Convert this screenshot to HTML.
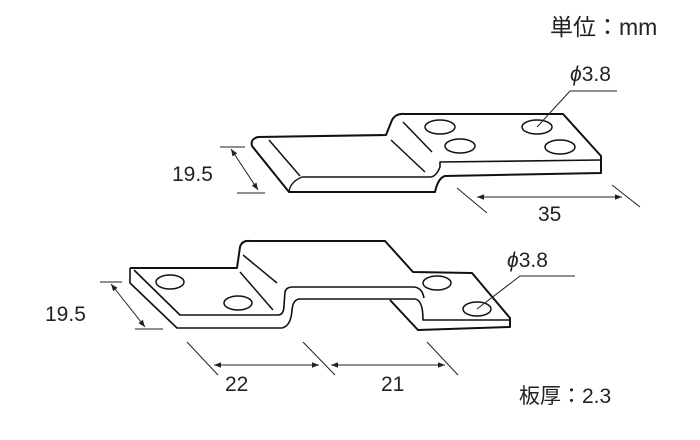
<!DOCTYPE html>
<html><head><meta charset="utf-8"><style>
html,body{margin:0;padding:0;background:#fff}
svg{display:block}
text{font-family:"Liberation Sans","Noto Sans CJK JP",sans-serif;fill:#222}
</style></head><body>
<svg width="700" height="440" viewBox="0 0 700 440" xmlns="http://www.w3.org/2000/svg">
<defs>
<marker id="a" viewBox="0 0 10 10" refX="10" refY="5" markerWidth="9" markerHeight="7" orient="auto-start-reverse" markerUnits="userSpaceOnUse"><path d="M0,1 L10,5 L0,9 z" fill="#222"/></marker>
</defs>
<g fill="none" stroke="#111" stroke-width="2" stroke-linejoin="round">
<path d="M289,192 L252,146 Q250,139 258,137 L386,135 L392,120 Q396,113 405,114 L563,114 L601,156 L601,173 L445,176 Q438,178 435,192 Z"/>
<path d="M302,177 L430,177 Q436,177 440,167 L440,162 L600,160" stroke-width="1.6"/>
<path d="M302,177 Q290,182 289,192" stroke-width="1.4"/>
<g stroke-width="1.5">
<line x1="269" y1="140" x2="300" y2="176"/>
<line x1="403" y1="122" x2="432" y2="152"/>
<line x1="391" y1="140" x2="425" y2="172"/>
<ellipse cx="440" cy="127" rx="15" ry="7"/>
<ellipse cx="460" cy="146" rx="15" ry="7"/>
<ellipse cx="537" cy="127" rx="15" ry="7"/>
<ellipse cx="560" cy="147" rx="15" ry="7"/>
</g>
<path d="M130,268 L237,268 L240,247 Q242,240 250,241 L385,241 L413,272 L472,273 L510,318 L510,327 L418,330 L390,300"/>
<path d="M130,268 L130,283 L177,328 L282,328 Q291,326 292,310 Q293,299 300,299 L415,299 Q423,300 423,320 L510,320" stroke-width="1.6"/>
<path d="M134,270 L180,315 L278,315 Q284,315 284,305 L285,292 Q286,287 293,287 L413,287 Q422,287 424,298" stroke-width="1.6"/>
<g stroke-width="1.5">
<line x1="243" y1="255" x2="277" y2="283"/>
<line x1="240" y1="272" x2="273" y2="310"/>
<ellipse cx="170" cy="282" rx="14" ry="7"/>
<ellipse cx="238" cy="303" rx="14" ry="7"/>
<ellipse cx="437" cy="283" rx="14" ry="7"/>
<ellipse cx="477" cy="309" rx="14" ry="7"/>
</g>
</g>
<g stroke="#222" stroke-width="1" fill="none">
<line x1="220" y1="147" x2="245" y2="147"/>
<line x1="237" y1="193" x2="265" y2="193"/>
<line x1="231" y1="149" x2="258" y2="190" marker-start="url(#a)" marker-end="url(#a)"/>
<line x1="457" y1="188" x2="487" y2="213"/>
<line x1="612" y1="185" x2="640" y2="207"/>
<line x1="477" y1="197" x2="622" y2="197" marker-start="url(#a)" marker-end="url(#a)"/>
<path d="M537,127 L570,91 L617,91"/>
<line x1="100" y1="282" x2="122" y2="282"/>
<line x1="135" y1="329" x2="163" y2="329"/>
<line x1="111" y1="284" x2="145" y2="327" marker-start="url(#a)" marker-end="url(#a)"/>
<line x1="187" y1="342" x2="218" y2="375"/>
<line x1="303" y1="342" x2="335" y2="375"/>
<line x1="427" y1="342" x2="458" y2="375"/>
<line x1="214" y1="365" x2="319" y2="365" marker-start="url(#a)" marker-end="url(#a)"/>
<line x1="331" y1="365" x2="445" y2="365" marker-start="url(#a)" marker-end="url(#a)"/>
<path d="M477,309 L520,276 L575,276"/>
</g>
<g font-size="21">
<text x="550" y="35" font-size="23">単位：mm</text>
<text x="570" y="81"><tspan font-style="italic">ϕ</tspan>3.8</text>
<text x="172" y="181">19.5</text>
<text x="538" y="221">35</text>
<text x="507" y="267"><tspan font-style="italic">ϕ</tspan>3.8</text>
<text x="45" y="321">19.5</text>
<text x="225" y="391">22</text>
<text x="381" y="391">21</text>
<text x="519" y="403">板厚：2.3</text>
</g>
</svg>
</body></html>
